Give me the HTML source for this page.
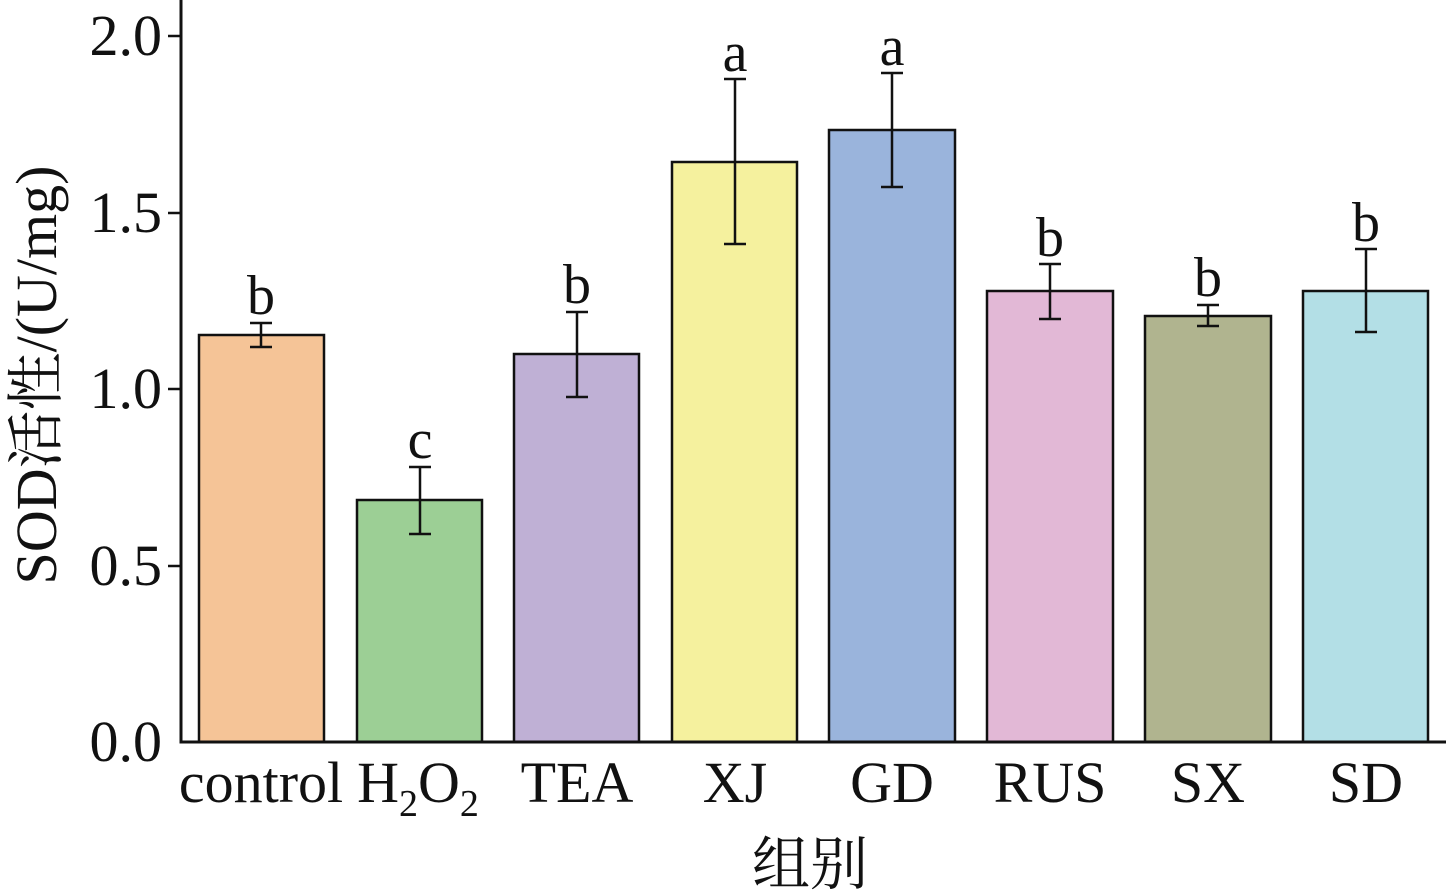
<!DOCTYPE html>
<html><head><meta charset="utf-8"><style>body{margin:0;background:#fff}svg{display:block}</style></head><body>
<svg width="1446" height="894" xmlns="http://www.w3.org/2000/svg" font-family="Liberation Serif, 'Noto Serif CJK SC', serif">
<rect width="1446" height="894" fill="#fff"/>
<g stroke="#111" stroke-width="2.5">
<rect x="199" y="335" width="125" height="407" fill="#f5c497"/>
<rect x="357" y="500" width="125" height="242" fill="#9ccf95"/>
<rect x="514" y="354" width="125" height="388" fill="#bfb0d5"/>
<rect x="672" y="162" width="125" height="580" fill="#f5f19e"/>
<rect x="829" y="130" width="126" height="612" fill="#9ab4dc"/>
<rect x="987" y="291" width="126" height="451" fill="#e2b8d6"/>
<rect x="1145" y="316" width="126" height="426" fill="#b0b48f"/>
<rect x="1303" y="291" width="125" height="451" fill="#b3dfe6"/>
</g>
<g stroke="#111" stroke-width="2.5" fill="none">
<path d="M261 347V323M250 347H272M250 323H272"/>
<path d="M420 534V467M409 534H431M409 467H431"/>
<path d="M577 397V312M566 397H588M566 312H588"/>
<path d="M735 244V79M724 244H746M724 79H746"/>
<path d="M892 187V73M881 187H903M881 73H903"/>
<path d="M1050 319V264M1039 319H1061M1039 264H1061"/>
<path d="M1208 326V305M1197 326H1219M1197 305H1219"/>
<path d="M1366 332V249M1355 332H1377M1355 249H1377"/>
<path d="M181 0V742H1446" stroke-width="3"/>
<path d="M168 36H181M168 213H181M168 389H181M168 566H181"/>
</g>
<g font-size="56" fill="#111" text-anchor="middle">
<text x="261" y="314">b</text><text x="420" y="458">c</text><text x="577" y="303">b</text>
<text x="735" y="71">a</text><text x="892" y="65">a</text><text x="1050" y="256">b</text>
<text x="1208" y="296">b</text><text x="1366" y="241">b</text>
</g>
<g font-size="58" fill="#111" text-anchor="end">
<text x="162" y="55">2.0</text><text x="162" y="232">1.5</text><text x="162" y="408">1.0</text>
<text x="162" y="585">0.5</text><text x="162" y="761">0.0</text>
</g>
<g font-size="58" fill="#111" text-anchor="middle">
<text x="261" y="802">control</text>
<text x="418" y="802">H<tspan font-size="38" dy="14">2</tspan><tspan dy="-14">O</tspan><tspan font-size="38" dy="14">2</tspan></text>
<text x="577" y="802">TEA</text><text x="735" y="802">XJ</text><text x="892" y="802">GD</text>
<text x="1050" y="802">RUS</text><text x="1208" y="802">SX</text><text x="1366" y="802">SD</text>
<text x="810" y="884" font-size="58">组别</text>
<text transform="translate(56,375) rotate(-90)">SOD活性/(U/mg)</text>
</g>
</svg>
</body></html>
